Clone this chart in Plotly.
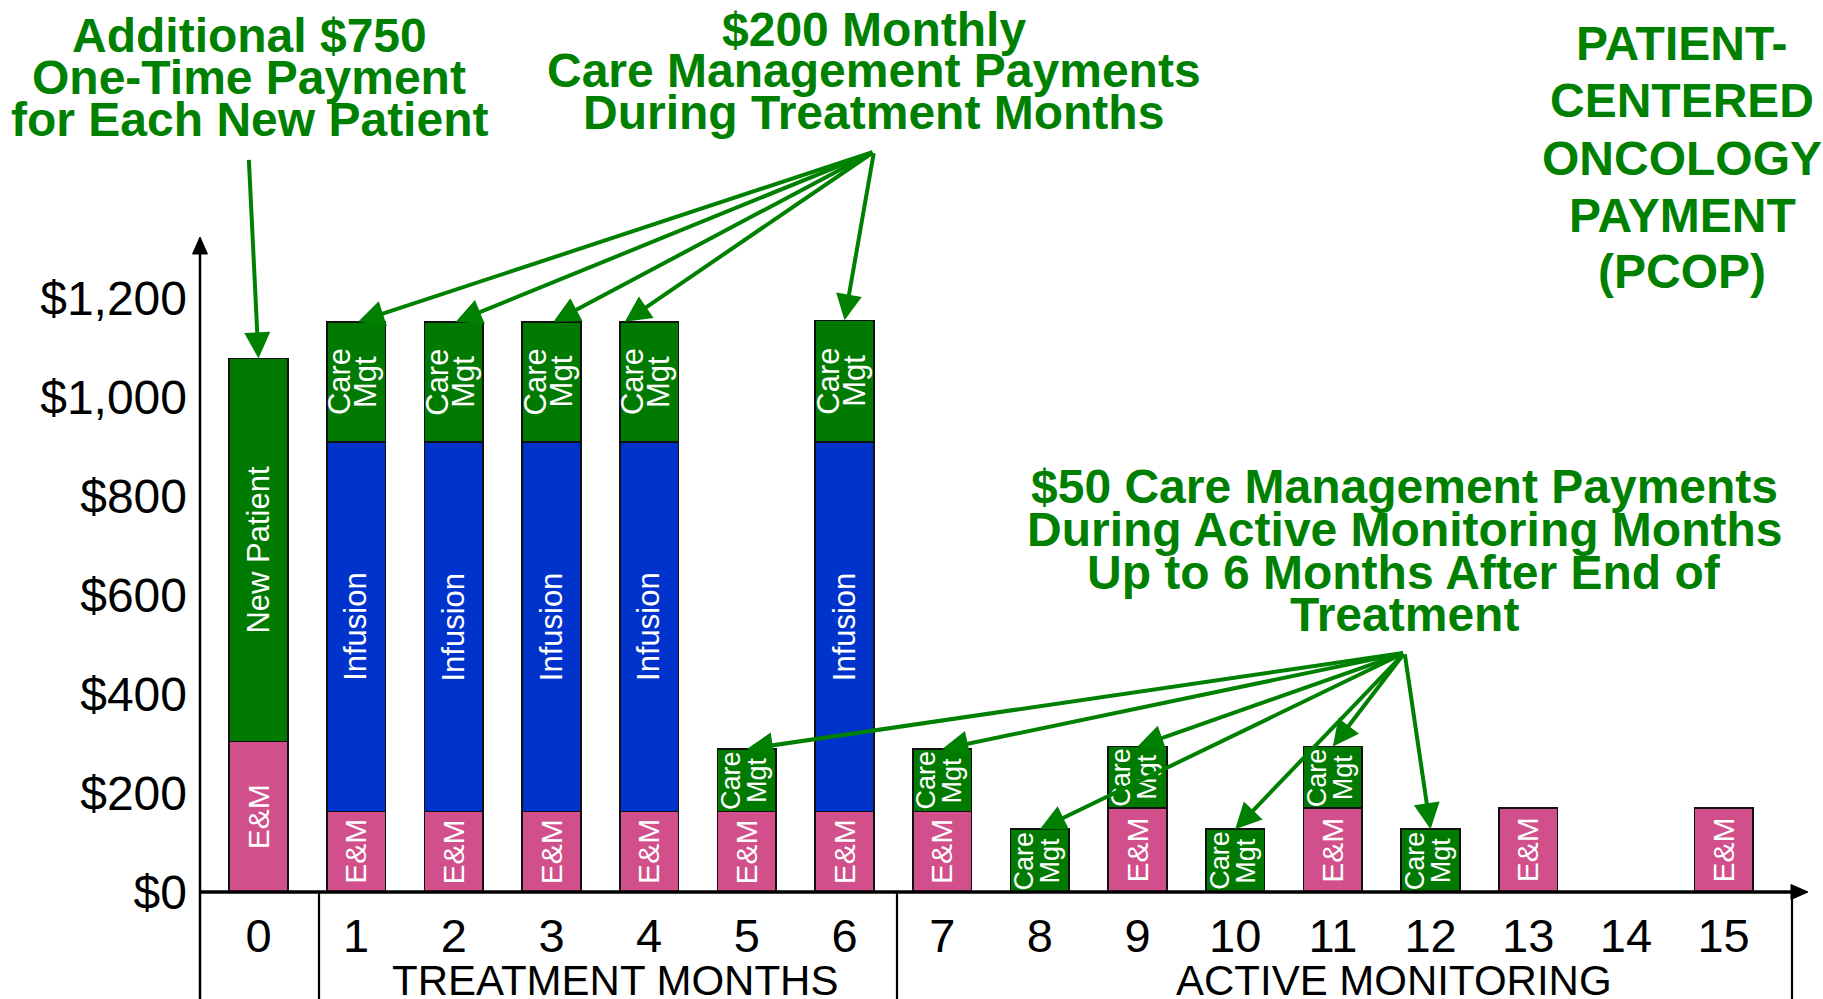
import plotly.graph_objects as go

# ---------------- data ----------------
months = list(range(16))
month_labels = [str(m) for m in months]

em_values = [304, 163, 163, 163, 163, 163, 163, 163, None, 170, None, 170, None, 170, None, 170]
infusion_values = [None, 747, 747, 747, 747, None, 747, None, None, None, None, None, None, None, None, None]
new_patient_values = [775, None, None, None, None, None, None, None, None, None, None, None, None, None, None, None]
care_mgt_values = [None, 243, 243, 243, 243, 126, 246, 126, 127, 124, 127, 124, 127, None, None, None]

y_tick_values = [0, 200, 400, 600, 800, 1000, 1200]
y_tick_labels = ["$0", "$200", "$400", "$600", "$800", "$1,000", "$1,200"]

treatment_label = "TREATMENT MONTHS"
monitoring_label = "ACTIVE MONITORING"

note_750 = ["Additional $750", "One-Time Payment", "for Each New Patient"]
note_200 = ["$200 Monthly", "Care Management Payments", "During Treatment Months"]
note_50 = ["$50 Care Management Payments", "During Active Monitoring Months",
           "Up to 6 Months After End of", "Treatment"]
note_pcop = ["PATIENT-", "CENTERED", "ONCOLOGY", "PAYMENT", "(PCOP)"]

# arrows: which bars the notes point to
arrow_200_targets = [1, 2, 3, 4, 6]
arrow_200_xoffsets = [0.02, 0.02, 0.02, -0.25, 0.0]
arrow_50_targets = [5, 7, 8, 9, 10, 11, 12]

# ---------------- styling ----------------
FONT = "Liberation Sans, Arial, sans-serif"
EM_COLOR = "#D1508B"
INF_COLOR = "#0033CC"
BAR_GREEN = "#007A00"
TEXT_GREEN = "#008000"

W, H = 1823, 999
L, R, T, B = 200, 1808, 237, 892          # plot area in pixels
PX_PER_X = 97.67
X0 = (L - 258.5) / PX_PER_X
X1 = X0 + (R - L) / PX_PER_X
PX_PER_Y = 0.4945
Y1 = (B - T) / PX_PER_Y


def pxx(px):
    return (px - L) / (R - L)


def pxy(py):
    return (B - py) / (B - T)


def data_x(px):
    return X0 + (px - L) / PX_PER_X


def data_y(py):
    return (B - py) / PX_PER_Y


series = [
    ("E&M", em_values, EM_COLOR),
    ("Infusion", infusion_values, INF_COLOR),
    ("New Patient", new_patient_values, BAR_GREEN),
    ("Care Mgt", care_mgt_values, BAR_GREEN),
]

fig = go.Figure()
for name, vals, col in series:
    fig.add_trace(go.Bar(
        x=months, y=vals, name=name, width=0.6,
        marker=dict(color=col, line=dict(color="#111111", width=1.5)),
        hovertemplate=name + ": $%{y}<extra></extra>",
    ))

annotations = []
totals = []
# segment labels
for i in months:
    base = 0
    for name, vals, col in series:
        v = vals[i]
        if not v:
            continue
        mid = base + v / 2
        if name == "Care Mgt":
            fs = 31 if v > 200 else 27
            for word, shift in (("Care", -16), ("Mgt", 10)):
                annotations.append(dict(
                    x=i, y=mid, xref="x", yref="y", text=word, showarrow=False,
                    textangle=-90, xshift=shift, font=dict(family=FONT, size=fs, color="white")))
        else:
            fs = 30 if name == "E&M" else 31
            annotations.append(dict(
                x=i, y=mid, xref="x", yref="y", text=name, showarrow=False,
                textangle=-90, font=dict(family=FONT, size=fs, color="white")))
        base += v
    totals.append(base)

# green note texts (one annotation per line for tight line spacing)
def add_lines(lines, cx, centers, size=48):
    for line, cy in zip(lines, centers):
        annotations.append(dict(
            x=pxx(cx), y=pxy(cy), xref="paper", yref="paper", text="<b>" + line + "</b>",
            showarrow=False, xanchor="center", yanchor="middle",
            font=dict(family=FONT, size=size, color=TEXT_GREEN)))

add_lines(note_750, 249, [35, 77.5, 119.5])
add_lines(note_200, 873.5, [29, 70.7, 112.7])
add_lines(note_pcop, 1682, [43.4, 100.1, 158.4, 215.1, 271.4])
add_lines(note_50, 1404, [486, 529, 572, 614])

# arrows
def add_arrow(hx, hy, tx, ty):
    annotations.append(dict(
        x=hx, y=hy, xref="x", yref="y", ax=tx, ay=ty, axref="x", ayref="y",
        text="", showarrow=True, arrowhead=2, arrowsize=1.3, arrowwidth=4,
        arrowcolor=TEXT_GREEN, standoff=0))

add_arrow(0, totals[0], data_x(248.8), data_y(158.3))
for m, off in zip(arrow_200_targets, arrow_200_xoffsets):
    add_arrow(m + off, totals[m], data_x(874), data_y(151.7))
for m in arrow_50_targets:
    add_arrow(m, totals[m], data_x(1404.6), data_y(652.8))

# group labels under the axis
for text, cx in ((treatment_label, 614.5), (monitoring_label, 1394)):
    annotations.append(dict(
        x=pxx(cx), y=pxy(980), xref="paper", yref="paper", text=text, showarrow=False,
        xanchor="center", yanchor="middle", font=dict(family=FONT, size=42, color="black")))

# axis lines, arrowheads and the table lines below the axis
shapes = []
def line(x0, y0, x1, y1, w):
    shapes.append(dict(type="line", xref="paper", yref="paper",
                       x0=pxx(x0), y0=pxy(y0), x1=pxx(x1), y1=pxy(y1),
                       line=dict(color="black", width=w), layer="above"))

def tri(p):
    path = "M " + " L ".join(f"{pxx(a)},{pxy(b)}" for a, b in p) + " Z"
    shapes.append(dict(type="path", xref="paper", yref="paper", path=path,
                       fillcolor="black", line=dict(color="black", width=1), layer="above"))

line(200, 999, 200, 250, 2.5)          # y axis (continues into table)
line(199, 892, 1794, 892, 3.5)         # x axis
line(319, 892, 319, 999, 2.2)          # separator 0 | 1
line(897, 892, 897, 999, 2.2)          # separator 6 | 7
line(1792, 892, 1792, 999, 2.2)        # right border
tri([(200, 237), (192.5, 254), (207.5, 254)])
tri([(1808, 892), (1791, 884.5), (1791, 899.5)])

fig.update_layout(
    width=W, height=H, autosize=False,
    margin=dict(l=L, r=W - R, t=T, b=H - B, pad=0),
    paper_bgcolor="white", plot_bgcolor="white",
    barmode="stack", showlegend=False,
    font=dict(family=FONT, color="black"),
    xaxis=dict(range=[X0, X1], tickmode="array", tickvals=months, ticktext=month_labels,
               showgrid=False, zeroline=False, showline=False, ticks="",
               tickfont=dict(family=FONT, size=47, color="black"), ticklabelstandoff=12),
    yaxis=dict(range=[0, Y1], tickmode="array", tickvals=y_tick_values, ticktext=y_tick_labels,
               showgrid=False, zeroline=False, showline=False, ticks="",
               tickfont=dict(family=FONT, size=48, color="black"), ticklabelstandoff=12),
    annotations=annotations, shapes=shapes,
)

fig.write_html("out.html", config={"displayModeBar": False},
               post_script="document.body.style.margin='0';")
